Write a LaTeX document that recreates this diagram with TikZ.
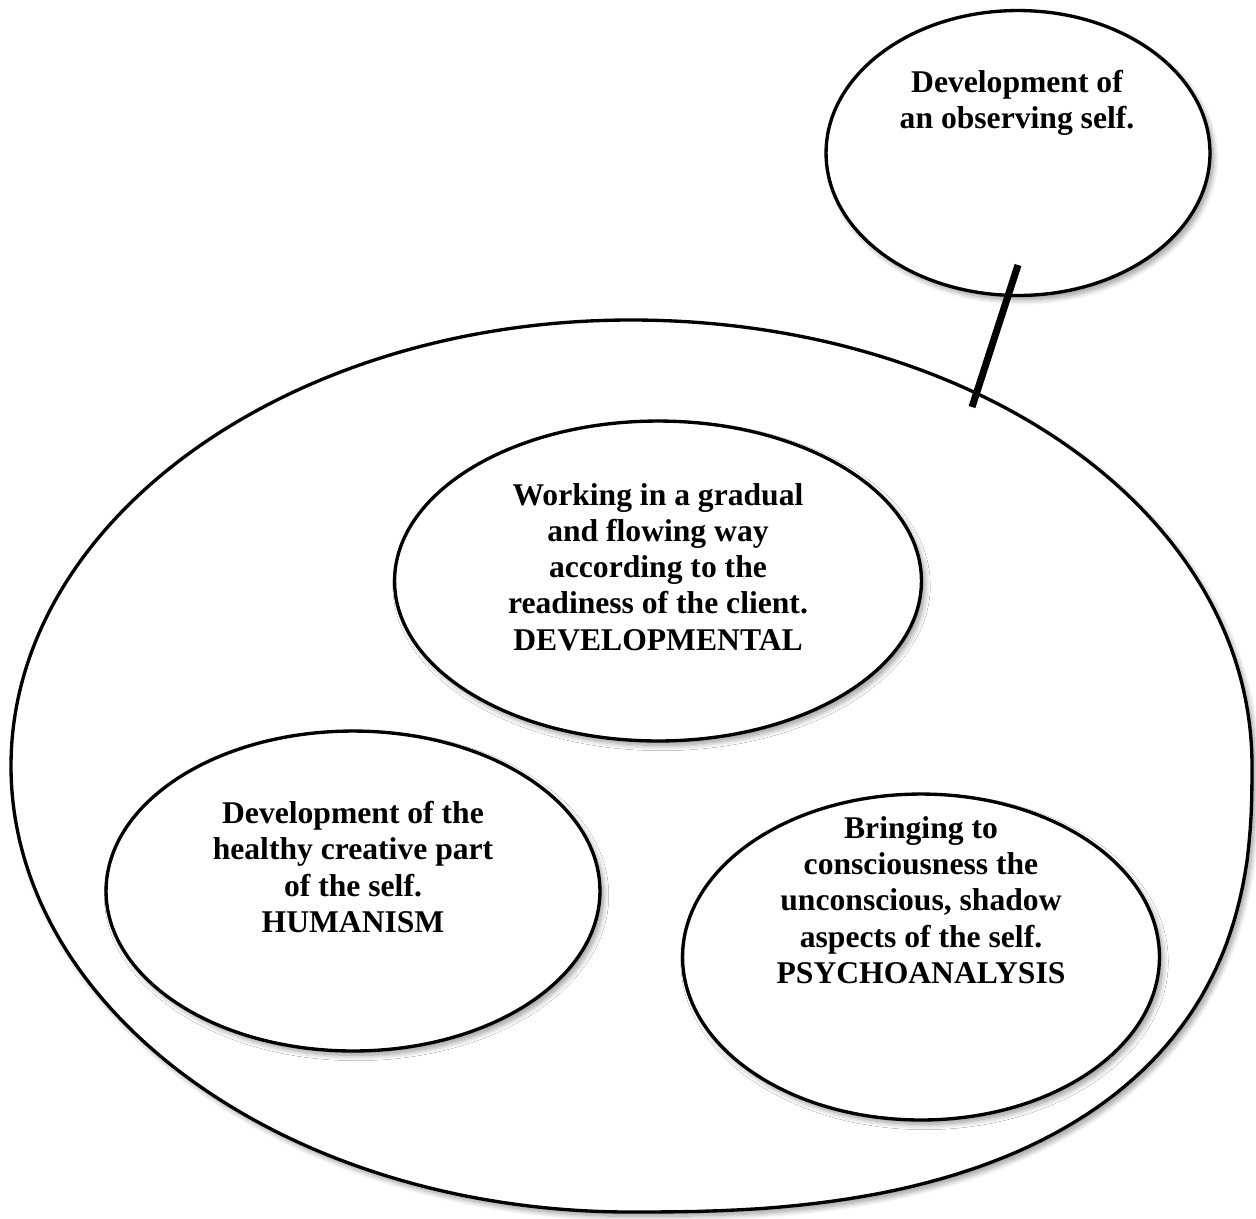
\documentclass[tikz,border=0pt]{standalone}
\usepackage{fontspec}
\setmainfont{Liberation Serif}
\usetikzlibrary{calc}
\usetikzlibrary{shapes.geometric}
\usetikzlibrary{shadows.blur}

\begin{document}
\begin{tikzpicture}[x=0.02cm, y=-0.02cm, line width=1.9pt,
    soft shadow/.style={blur shadow={shadow xshift=2pt, shadow yshift=-2.5pt,
        shadow blur radius=3pt, shadow blur steps=10, shadow opacity=40}},
    bubble/.style={draw, ellipse, fill=white, inner sep=0pt, soft shadow},
    bubbletext/.style={align=center, font=\fontsize{18}{20.6}\selectfont\bfseries}]

% =========================================================
% Nested ovals: three approaches inside the whole
% =========================================================

\useasboundingbox (0,0) rectangle (1256,1218);

% --- 1. OUTER OVAL (fuller towards the lower right) ---
\draw[fill=white, soft shadow]
    (11,766) .. controls (11,520) and (289,320) .. (631,320)
    .. controls (974,320) and (1252,512) .. (1252,766)
    -- plot[domain=0.5:89.5, samples=60, variable=\t]
        ({631+621*pow(cos(\t),0.8)}, {766+446*pow(sin(\t),0.8)})
    -- (631,1212) .. controls (289,1212) and (11,1012) .. (11,766) -- cycle;

% --- 2. INNER ELLIPSES ---
\node[bubble, minimum width=10.54cm, minimum height=6.4cm] (dev) at (658,581) {};
\node[bubble, minimum width=9.88cm, minimum height=6.4cm] (human) at (353,891) {};
\node[bubble, minimum width=9.54cm, minimum height=6.52cm] (psycho) at (921,957) {};

% --- 3. OBSERVING SELF (outside, top right) ---
\node[bubble, minimum width=7.68cm, minimum height=5.7cm] (observe) at (1018,153) {};

% --- 4. TEXTS ---
\node[bubbletext] (observe_text) at (1017,103)
    {Development of\\an observing self.};
\node[bubbletext] (dev_text) at (658,567)
    {Working in a gradual\\and flowing way\\according to the\\readiness of the client.\\DEVELOPMENTAL};
\node[bubbletext] (human_text) at (353,867)
    {Development of the\\healthy creative part\\of the self.\\HUMANISM};
\node[bubbletext] (psycho_text) at (921,900)
    {Bringing to\\consciousness the\\unconscious, shadow\\aspects of the self.\\PSYCHOANALYSIS};

% --- 5. LINK BETWEEN THE TWO ---
\coordinate (link_top) at (1018,265);
\coordinate (link_bottom) at (972,407);
\draw[line width=4pt] (link_top) -- (link_bottom);

\end{tikzpicture}
\end{document}
